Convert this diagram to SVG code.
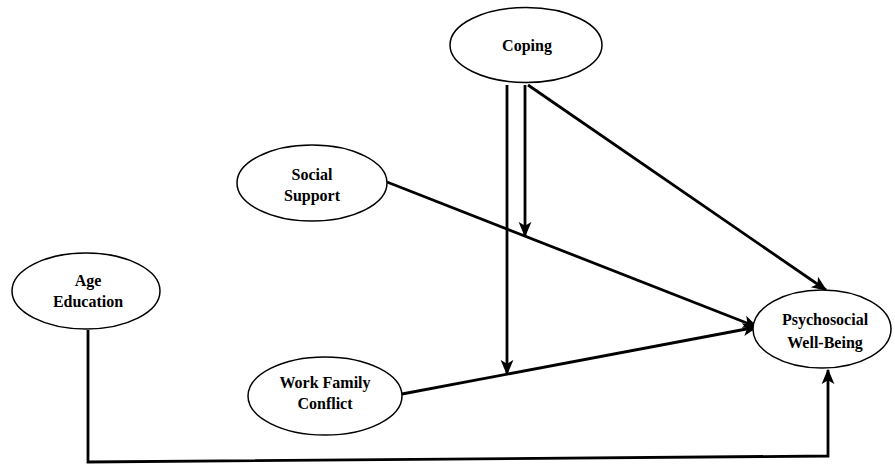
<svg xmlns="http://www.w3.org/2000/svg" width="895" height="465" viewBox="0 0 895 465">
<style>
.node ellipse{fill:#fff;stroke:#000;stroke-width:1.5}
.node text{font-family:"Liberation Serif","Times New Roman",serif;font-weight:bold;font-size:16px;fill:#000;text-anchor:middle}
.conn path{fill:none;stroke:#000;stroke-width:2.8}
</style>
<defs>
<marker id="ah" viewBox="0 0 12 10" refX="11" refY="5" markerWidth="5.5" markerHeight="5.5" orient="auto" markerUnits="strokeWidth">
<path d="M0,0 L12,5 L0,10 L3,5 Z" fill="#000"/>
</marker>
</defs>
<rect width="895" height="465" fill="#fff"/>
<g class="conn">
<path d="M507,85 V374" marker-end="url(#ah)"/>
<path d="M525,85 V236" marker-end="url(#ah)"/>
<path d="M528,85 L826,290" marker-end="url(#ah)"/>
<path d="M387,182 L757,327" marker-end="url(#ah)"/>
<path d="M402,394 L757,327" marker-end="url(#ah)"/>
<path d="M88,330 V462 L828,456 V370" marker-end="url(#ah)"/>
</g>
<g id="coping" class="node"><ellipse cx="526" cy="45" rx="76" ry="37.5"/><text x="527" y="51">Coping</text></g>
<g id="social" class="node"><ellipse cx="312" cy="183" rx="75" ry="38"/><text x="312" y="180">Social</text><text x="312" y="201">Support</text></g>
<g id="age" class="node"><ellipse cx="86" cy="291" rx="74" ry="38"/><text x="88" y="286">Age</text><text x="88" y="307">Education</text></g>
<g id="wfc" class="node"><ellipse cx="325" cy="396" rx="77" ry="39"/><text x="325" y="388">Work Family</text><text x="325" y="409">Conflict</text></g>
<g id="pwb" class="node"><ellipse cx="822" cy="329" rx="69" ry="39"/><text x="825" y="325">Psychosocial</text><text x="825" y="348">Well-Being</text></g>
</svg>
